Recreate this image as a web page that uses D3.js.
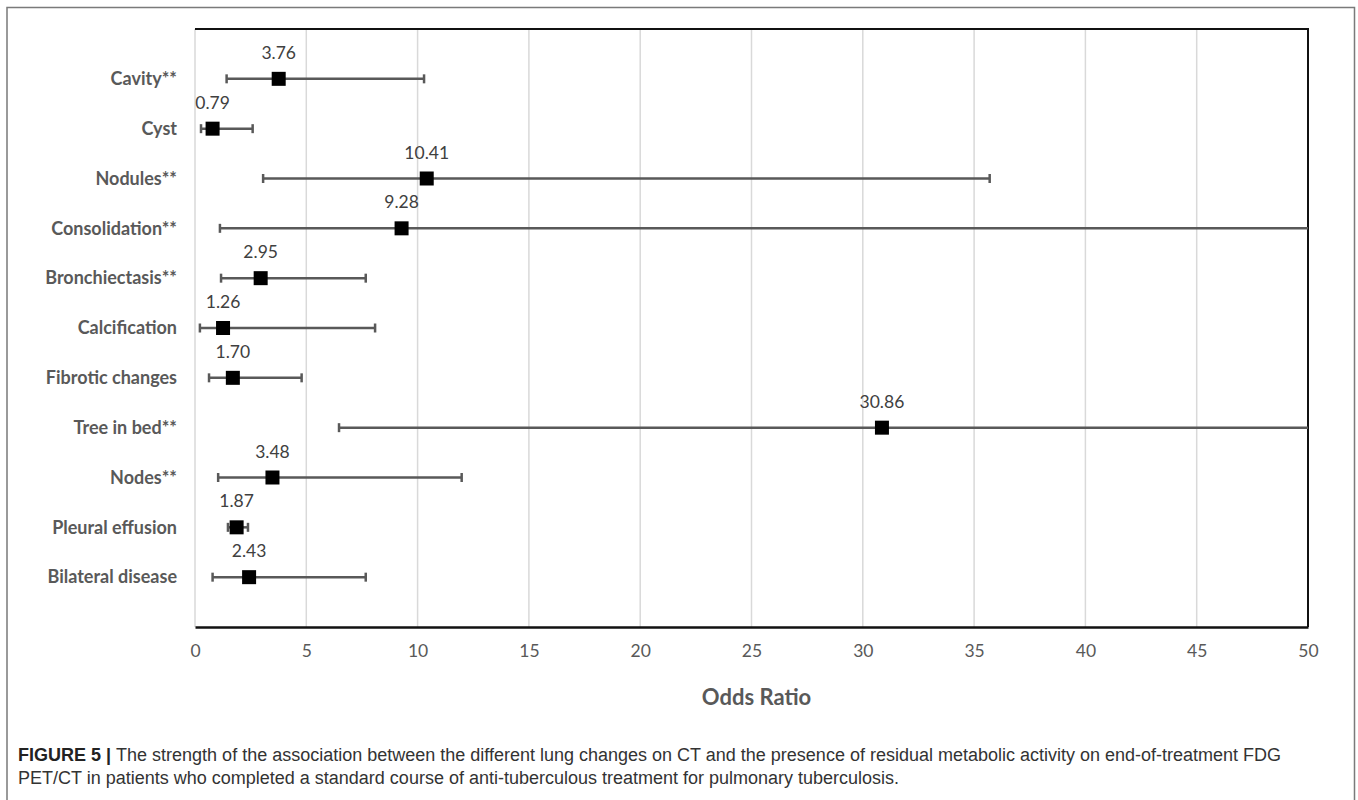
<!DOCTYPE html>
<html>
<head>
<meta charset="utf-8">
<script src="https://cdn.jsdelivr.net/npm/d3@7"></script>
<style>
  body { margin: 0; background: #fff; }
  svg { display: block; }
</style>
</head>
<body>
<svg id="chart" width="1358" height="800"></svg>
<script>
// Odds ratios with 95% CI
var categories = ["Cavity**", "Cyst", "Nodules**", "Consolidation**", "Bronchiectasis**",
  "Calcification", "Fibrotic changes", "Tree in bed**", "Nodes**", "Pleural effusion", "Bilateral disease"];
var oddsRatio = [3.76, 0.79, 10.41, 9.28, 2.95, 1.26, 1.70, 30.86, 3.48, 1.87, 2.43];
var lowerCI = [1.42, 0.27, 3.06, 1.12, 1.17, 0.22, 0.63, 6.47, 1.04, 1.48, 0.79];
var upperCI = [10.29, 2.59, 35.7, 77.0, 7.67, 8.09, 4.79, 147.0, 11.98, 2.38, 7.67];
var xTicks = [0, 5, 10, 15, 20, 25, 30, 35, 40, 45, 50];
var labelOf = function (v) { return v.toFixed(2); };

var chartFont = "Lato, 'Open Sans', sans-serif";
var svg = d3.select("#chart");

// Plot area (note: "top" is taken by window.top, so use plot* names)
var plotLeft = 195, plotRight = 1308, plotTop = 29, plotBottom = 627;

var x = d3.scaleLinear().domain([0, 50]).range([plotLeft, plotRight]);
var y = d3.scalePoint().domain(categories).range([plotTop, plotBottom]).padding(1);

// Outer figure frame
svg.append("path")
  .attr("d", "M7,800 V7.5 H1354.5 V800")
  .style("fill", "none")
  .style("stroke", "#7a7a7a")
  .style("stroke-width", 1.5);

// Vertical gridlines
svg.append("g")
  .selectAll("line")
  .data(xTicks.slice(0, -1))
  .enter()
  .append("line")
  .attr("x1", function (d) { return x(d); })
  .attr("x2", function (d) { return x(d); })
  .attr("y1", plotTop)
  .attr("y2", plotBottom)
  .style("stroke", "#d9d9d9")
  .style("stroke-width", 1.5);

// Box on top / right
svg.append("path")
  .attr("d", "M" + plotLeft + "," + plotTop + " H" + plotRight + " V" + plotBottom)
  .style("fill", "none")
  .style("stroke", "#111")
  .style("stroke-width", 2);

// x axis
var xAxis = svg.append("g")
  .attr("transform", "translate(0," + plotBottom + ")")
  .call(d3.axisBottom(x).tickValues(xTicks).tickSize(0).tickPadding(18));
xAxis.select(".domain").style("stroke", "#111").style("stroke-width", 2.5);
xAxis.selectAll("text")
  .style("font-family", chartFont)
  .style("font-size", "17.5px")
  .style("fill", "#595959");

svg.append("text")
  .attr("x", (plotLeft + plotRight) / 2 + 5)
  .attr("y", 705)
  .style("text-anchor", "middle")
  .style("font-family", chartFont)
  .style("font-weight", "bold")
  .style("font-size", "22px")
  .style("fill", "#595959")
  .text("Odds Ratio");

// Category labels
svg.append("g")
  .selectAll("text")
  .data(categories)
  .enter()
  .append("text")
  .attr("x", 177)
  .attr("y", function (d) { return y(d); })
  .attr("dy", "0.35em")
  .style("text-anchor", "end")
  .style("font-family", chartFont)
  .style("font-weight", "bold")
  .style("font-size", "18px")
  .style("fill", "#595959")
  .text(function (d) { return d; });

// Clip error bars at the axis maximum
svg.append("clipPath").attr("id", "plotclip")
  .append("rect")
  .attr("x", plotLeft - 10).attr("y", plotTop)
  .attr("width", plotRight - plotLeft + 10).attr("height", plotBottom - plotTop);

var rows = categories.map(function (c, i) {
  return { name: c, or: oddsRatio[i], lo: lowerCI[i], hi: upperCI[i] };
});

var bars = svg.append("g").attr("clip-path", "url(#plotclip)");

bars.selectAll("line.ci")
  .data(rows)
  .enter()
  .append("line")
  .attr("class", "ci")
  .attr("x1", function (d) { return x(d.lo); })
  .attr("x2", function (d) { return x(d.hi); })
  .attr("y1", function (d) { return y(d.name); })
  .attr("y2", function (d) { return y(d.name); })
  .style("stroke", "#595959")
  .style("stroke-width", 2.5);

// End caps (low and high)
var caps = [];
rows.forEach(function (d) {
  caps.push({ name: d.name, v: d.lo });
  if (d.hi <= 50) caps.push({ name: d.name, v: d.hi });
});
bars.selectAll("line.cap")
  .data(caps)
  .enter()
  .append("line")
  .attr("class", "cap")
  .attr("x1", function (d) { return x(d.v); })
  .attr("x2", function (d) { return x(d.v); })
  .attr("y1", function (d) { return y(d.name) - 4.5; })
  .attr("y2", function (d) { return y(d.name) + 4.5; })
  .style("stroke", "#595959")
  .style("stroke-width", 2.5);

// Square markers
var size = 14;
svg.append("g")
  .selectAll("rect")
  .data(rows)
  .enter()
  .append("rect")
  .attr("x", function (d) { return x(d.or) - size / 2; })
  .attr("y", function (d) { return y(d.name) - size / 2; })
  .attr("width", size)
  .attr("height", size)
  .style("fill", "#000");

// Value labels above markers
svg.append("g")
  .selectAll("text")
  .data(rows)
  .enter()
  .append("text")
  .attr("x", function (d) { return x(d.or); })
  .attr("y", function (d) { return y(d.name) - 26; })
  .attr("dy", "0.35em")
  .style("text-anchor", "middle")
  .style("font-family", chartFont)
  .style("font-size", "17.5px")
  .style("fill", "#404040")
  .text(function (d) { return labelOf(d.or); });

// Caption
var cap = svg.append("g")
  .style("font-family", "'Liberation Sans', Arial, sans-serif")
  .style("font-size", "18px")
  .style("fill", "#333");
var l1 = cap.append("text").attr("x", 18).attr("y", 761);
l1.append("tspan").style("font-weight", "bold").style("fill", "#222").text("FIGURE 5 | ");
l1.append("tspan").text("The strength of the association between the different lung changes on CT and the presence of residual metabolic activity on end-of-treatment FDG");
cap.append("text").attr("x", 18).attr("y", 784)
  .text("PET/CT in patients who completed a standard course of anti-tuberculous treatment for pulmonary tuberculosis.");
</script>
</body>
</html>
